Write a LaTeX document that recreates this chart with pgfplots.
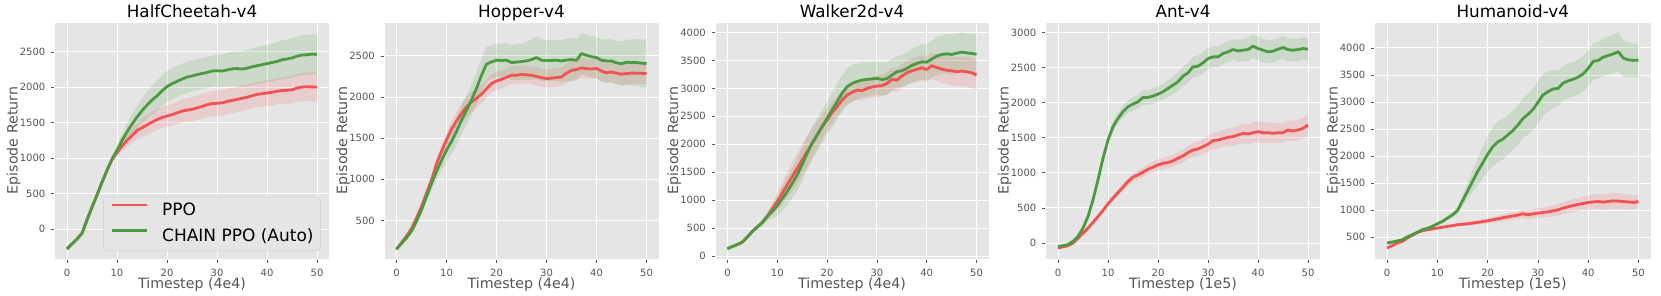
\documentclass[border=0pt]{standalone}
\usepackage{fontspec}
\setmainfont{DejaVu Sans}
\usepackage{pgfplots}
\pgfplotsset{compat=1.18}
\usepackage{pgfplotstable}
\usepgfplotslibrary{fillbetween}
\definecolor{bg}{HTML}{E5E5E5}
\definecolor{tk}{HTML}{555555}
\definecolor{ppo}{RGB}{242,82,82}
\definecolor{chain}{RGB}{74,155,64}
\definecolor{lgedge}{HTML}{CCCCCC}

% columns: x, PPO mean, PPO spread, CHAIN mean, CHAIN spread
\pgfplotstableread{
x pm ps cm cs
0 -280 15 -280 15
1 -210 15 -210 15
2 -140 15 -140 15
3 -60 15 -60 15
4 130 15 130 15
5 310 15 310 15
6 480 15 480 15
7 660 15 660 15
8 830 20 830 20
9 980 30 990 35
10 1080 50 1110 60
11 1170 70 1250 90
12 1250 90 1370 120
13 1320 105 1480 140
14 1390 120 1580 160
15 1430 130 1670 180
16 1470 140 1750 190
17 1510 145 1820 200
18 1545 150 1880 210
19 1575 150 1950 215
20 1595 150 2010 220
21 1615 155 2050 220
22 1640 160 2085 220
23 1665 160 2115 220
24 1680 165 2145 220
25 1690 170 2160 220
26 1710 170 2180 220
27 1730 175 2195 220
28 1755 175 2210 220
29 1770 180 2230 220
30 1775 180 2235 225
31 1780 180 2230 230
32 1800 180 2245 235
33 1815 180 2260 240
34 1830 180 2265 245
35 1845 180 2258 250
36 1860 180 2270 255
37 1880 180 2290 260
38 1900 180 2305 260
39 1910 180 2320 265
40 1920 180 2335 265
41 1930 185 2350 270
42 1945 185 2365 270
43 1955 185 2390 275
44 1960 190 2400 275
45 1965 190 2415 280
46 1990 195 2440 280
47 2005 200 2455 280
48 2010 205 2460 280
49 2005 205 2470 280
50 2005 210 2465 280
}\hc

\pgfplotstableread{
x pm ps cm cs
0 150 20 150 20
1 230 20 220 20
2 310 20 290 20
3 400 20 370 25
4 530 25 490 35
5 670 40 630 50
6 830 45 790 65
7 990 55 950 85
8 1190 60 1095 100
9 1340 70 1230 120
10 1480 80 1355 140
11 1610 95 1460 155
12 1710 110 1580 170
13 1800 120 1720 175
14 1880 130 1840 180
15 1940 125 1965 190
16 1985 120 2105 200
17 2035 115 2265 205
18 2100 110 2400 210
19 2165 110 2427 205
20 2195 110 2447 200
21 2215 110 2445 205
22 2240 110 2447 210
23 2265 110 2419 215
24 2265 110 2425 220
25 2275 110 2431 220
26 2270 110 2440 230
27 2265 110 2455 245
28 2250 110 2480 260
29 2235 110 2447 255
30 2225 110 2443 250
31 2230 110 2445 250
32 2237 110 2447 250
33 2245 115 2439 255
34 2290 115 2450 260
35 2325 115 2455 260
36 2335 120 2447 255
37 2355 120 2528 250
38 2345 120 2508 250
39 2340 120 2490 250
40 2350 125 2480 250
41 2315 125 2447 255
42 2295 125 2439 260
43 2305 125 2439 265
44 2290 125 2415 265
45 2278 130 2406 270
46 2285 130 2423 275
47 2292 130 2420 280
48 2290 130 2419 285
49 2288 130 2412 290
50 2285 130 2406 290
}\hop

\pgfplotstableread{
x pm ps cm cs
0 130 20 130 20
1 170 20 170 20
2 205 20 205 20
3 250 20 250 20
4 340 20 340 25
5 440 25 440 30
6 520 30 520 40
7 600 45 600 60
8 708 60 708 80
9 840 100 800 130
10 976 150 899 180
11 1125 190 1025 215
12 1274 230 1155 250
13 1420 255 1300 270
14 1571 270 1452 290
15 1720 280 1640 300
16 1869 275 1839 300
17 2018 265 2018 300
18 2167 250 2167 300
19 2315 225 2315 300
20 2435 200 2464 300
21 2565 190 2613 315
22 2673 180 2762 330
23 2792 175 2911 330
24 2881 170 3030 330
25 2929 170 3089 330
26 2970 170 3125 320
27 2958 175 3149 310
28 3000 180 3161 305
29 3025 185 3170 300
30 3042 190 3179 300
31 3048 195 3161 295
32 3089 200 3173 290
33 3161 205 3238 285
34 3149 210 3298 280
35 3220 220 3315 280
36 3280 220 3357 290
37 3315 225 3411 300
38 3339 225 3446 310
39 3369 230 3476 315
40 3339 230 3470 320
41 3405 235 3524 330
42 3375 240 3577 340
43 3345 245 3607 350
44 3327 250 3619 355
45 3315 260 3607 360
46 3298 260 3631 360
47 3310 265 3649 355
48 3298 265 3637 350
49 3280 270 3625 350
50 3238 270 3613 350
}\walk

\pgfplotstableread{
x pm ps cm cs
0 -71 15 -47 20
1 -55 15 -38 20
2 -38 15 -24 20
3 0 15 24 20
4 71 20 95 25
5 142 25 213 30
6 213 28 379 35
7 294 30 616 40
8 379 33 900 50
9 464 36 1209 60
10 559 40 1469 70
11 640 44 1659 75
12 720 48 1777 80
13 796 52 1872 85
14 877 56 1943 90
15 938 60 1981 100
16 972 64 2014 100
17 1009 68 2076 105
18 1052 72 2076 105
19 1081 76 2095 110
20 1114 80 2123 110
21 1137 82 2156 115
22 1147 84 2204 120
23 1171 86 2251 125
24 1209 88 2299 135
25 1242 90 2379 140
26 1289 94 2427 145
27 1327 98 2512 150
28 1341 102 2521 150
29 1374 106 2569 150
30 1408 110 2630 150
31 1460 114 2654 150
32 1469 118 2654 150
33 1488 122 2701 150
34 1507 126 2725 150
35 1517 130 2758 150
36 1540 134 2739 155
37 1564 138 2749 160
38 1555 142 2758 165
39 1573 146 2806 170
40 1588 150 2773 170
41 1573 148 2749 168
42 1573 146 2725 166
43 1564 144 2735 164
44 1573 142 2763 162
45 1573 140 2787 160
46 1611 142 2758 160
47 1597 144 2749 160
48 1611 146 2758 160
49 1635 148 2773 160
50 1682 150 2763 160
}\ant

\pgfplotstableread{
x pm ps cm cs
0 297 20 389 30
1 340 20 408 30
2 389 20 426 30
3 420 20 451 30
4 482 20 500 30
5 531 20 543 30
6 586 20 586 30
7 617 20 635 30
8 635 20 660 30
9 650 20 697 30
10 666 20 746 30
11 682 22 790 35
12 697 24 850 40
13 712 26 910 50
14 728 28 990 60
15 737 30 1170 100
16 746 34 1350 150
17 758 38 1530 200
18 771 42 1710 250
19 786 46 1870 290
20 801 50 2030 330
21 820 54 2170 360
22 838 58 2260 380
23 856 62 2310 375
24 875 66 2390 370
25 890 70 2470 360
26 906 74 2570 365
27 931 78 2690 370
28 912 82 2770 375
29 928 86 2860 385
30 943 90 2990 400
31 955 94 3130 390
32 967 98 3190 370
33 985 102 3240 350
34 1004 106 3250 330
35 1035 110 3350 320
36 1060 114 3390 320
37 1082 118 3420 320
38 1103 122 3460 325
39 1122 126 3520 330
40 1140 130 3620 330
41 1150 134 3750 335
42 1158 138 3770 340
43 1146 142 3830 345
44 1158 146 3860 350
45 1170 150 3890 355
46 1165 146 3930 360
47 1158 142 3810 340
48 1150 138 3780 320
49 1140 134 3770 310
50 1158 130 3775 310
}\hum

\pgfplotsset{gg/.style={
  scale only axis, height=237pt, anchor=south west,
  xmin=-2.5, xmax=52.5, xtick={0,10,20,30,40,50},
  scaled ticks=false,
  axis background/.style={fill=bg},
  axis line style={white, line width=0.8pt},
  grid=major, major grid style={white, line width=0.9pt},
  tick align=outside, tick pos=left, major tick length=3.5pt,
  tick style={tk, line width=0.8pt},
  /pgf/number format/assume math mode=true,
  /pgf/number format/1000 sep={},
  every x tick label/.style={anchor=base, inner sep=0pt, yshift=-13.7pt, font=\fontsize{10}{12}\selectfont, text=tk},
  every y tick label/.style={anchor=east, inner sep=0pt, xshift=-5.5pt, font=\fontsize{10}{12}\selectfont, text=tk},
}}

\newcommand{\curves}[2]{%
  \addplot[name path=#2pl, draw=none, forget plot] table[x=x, y expr=\thisrow{pm}-\thisrow{ps}] {#1};
  \addplot[name path=#2pu, draw=none, forget plot] table[x=x, y expr=\thisrow{pm}+\thisrow{ps}] {#1};
  \addplot[fill=ppo, fill opacity=0.16, draw=none, forget plot] fill between[of=#2pl and #2pu];
  \addplot[name path=#2cl, draw=none, forget plot] table[x=x, y expr=\thisrow{cm}-\thisrow{cs}] {#1};
  \addplot[name path=#2cu, draw=none, forget plot] table[x=x, y expr=\thisrow{cm}+\thisrow{cs}] {#1};
  \addplot[fill=chain, fill opacity=0.16, draw=none, forget plot] fill between[of=#2cl and #2cu];
  \addplot[ppo, line width=2.8pt, line join=round] table[x=x, y=pm] {#1};
  \addplot[chain, line width=2.8pt, line join=round] table[x=x, y=cm] {#1};
}

% title, x label and y label of one panel: left edge, width, title, x label
\newcommand{\texts}[4]{%
  \node[anchor=base, inner sep=0pt, font=\fontsize{16.8}{20}\selectfont] at ({#1pt+0.5*#2pt},277.7pt) {#3};
  \node[anchor=base, inner sep=0pt, font=\fontsize{14.2}{17}\selectfont, text=tk] at ({#1pt+0.5*#2pt},6.7pt) {#4};
  \node[anchor=base, rotate=90, inner sep=0pt, font=\fontsize{14.2}{17}\selectfont, text=tk] at ({#1pt-37pt},154.5pt) {Episode Return};
}

\begin{document}
\begin{tikzpicture}
\path (0,0) rectangle (1661pt,295pt);

\begin{axis}[gg, at={(54.5pt,36pt)}, width=275pt,
  ymin=-422, ymax=2922, ytick={0,500,...,2500},
  legend style={at={(axis description cs:1,0)}, anchor=south east, xshift=-9pt, yshift=8pt,
    draw=lgedge, fill=bg, rounded corners=3pt, font=\fontsize{17}{20}\selectfont,
    inner xsep=6.7pt, inner ysep=5.6pt, row sep=8.7pt, column sep=0pt,
    nodes={inner sep=0pt, text height=13pt, text depth=4pt}},
  legend cell align=left,
  legend image code/.code={\draw[#1, line width=2.8pt] (0pt,6pt) -- (35.6pt,6pt); \path (49pt,6pt);},
]
\curves{\hc}{a}
\legend{PPO, CHAIN PPO (Auto)}
\end{axis}

\begin{axis}[gg, at={(384pt,36pt)}, width=275pt,
  ymin=32, ymax=2912, ytick={500,1000,...,2500}]
\curves{\hop}{b}
\end{axis}

\begin{axis}[gg, at={(715pt,36pt)}, width=274pt,
  ymin=-54, ymax=4189, ytick={0,500,...,4000}]
\curves{\walk}{c}
\end{axis}

\begin{axis}[gg, at={(1045.5pt,36pt)}, width=275pt,
  ymin=-228, ymax=3151, ytick={0,500,...,3000}]
\curves{\ant}{d}
\end{axis}

\begin{axis}[gg, at={(1374.5pt,36pt)}, width=276.5pt,
  ymin=94, ymax=4480, ytick={500,1000,...,4000}]
\curves{\hum}{e}
\end{axis}

\texts{54.5}{275}{HalfCheetah-v4}{Timestep (4e4)}
\texts{384}{275}{Hopper-v4}{Timestep (4e4)}
\texts{715}{274}{Walker2d-v4}{Timestep (4e4)}
\texts{1045.5}{275}{Ant-v4}{Timestep (1e5)}
\texts{1374.5}{276.5}{Humanoid-v4}{Timestep (1e5)}
\end{tikzpicture}
\end{document}
